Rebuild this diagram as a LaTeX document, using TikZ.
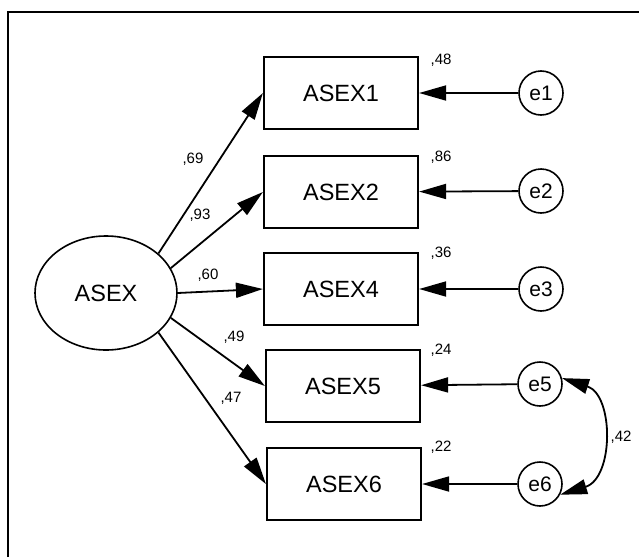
\documentclass[tikz,border=0pt]{standalone}
\usepackage{fontspec}
\setmainfont{Liberation Sans}
\usetikzlibrary{arrows.meta,shapes.geometric}
\begin{document}
\begin{tikzpicture}[x=1pt,y=-1pt,
  obs/.style={draw,line width=2.2pt,minimum width=154pt,minimum height=72pt,inner sep=0pt,font=\fontsize{23.5}{23.5}\selectfont},
  err/.style={draw,circle,line width=1.6pt,minimum size=44pt,inner sep=0pt,font=\fontsize{21}{21}\selectfont},
  lat/.style={draw,ellipse,line width=1.6pt,minimum width=142pt,minimum height=114pt,inner sep=0pt,font=\fontsize{23.5}{23.5}\selectfont},
  arr/.style={line width=1.8pt,-{Triangle[length=27pt,width=15pt]}},
  lbl/.style={font=\fontsize{15}{15}\selectfont,inner sep=1pt}]
\useasboundingbox (0,0) rectangle (639,557);
\draw[line width=1.2pt] (8,557) -- (8,12) -- (639,12);
\node[lat] (asex) at (106,293) {ASEX};
\node[obs] (b1) at (341,93) {ASEX1};
\node[obs] (b2) at (341,192) {ASEX2};
\node[obs] (b4) at (341,289) {ASEX4};
\node[obs] (b5) at (343,386) {ASEX5};
\node[obs] (b6) at (344,484) {ASEX6};
\node[err] (e1) at (541,93) {e1};
\node[err] (e2) at (541,191) {e2};
\node[err] (e3) at (541,289) {e3};
\node[err] (e5) at (540,384) {e5};
\node[err] (e6) at (540,484) {e6};
\draw[arr] (asex.37) -- (b1.west);
\draw[arr] (asex.21) -- (b2.west);
\draw[arr] (asex.0) -- (b4.west);
\draw[arr] (asex.-21) -- (b5.west);
\draw[arr] (asex.-37) -- (b6.west);
\draw[arr] (e1) -- (b1);
\draw[arr] (e2) -- (b2);
\draw[arr] (e3) -- (b4);
\draw[arr] (e5) -- (b5);
\draw[arr] (e6) -- (b6);
\draw[line width=1.8pt,{Triangle[length=27pt,width=15pt]}-{Triangle[length=27pt,width=15pt]}] (e5.15) .. controls (614,395) and (614,478) .. (e6.-28);
\node[lbl] (l1) at (193,159) {,69};
\node[lbl] (l2) at (200,215) {,93};
\node[lbl] (l4) at (208,275) {,60};
\node[lbl] (l5) at (234,337) {,49};
\node[lbl] (l6) at (231,398) {,47};
\node[lbl] (r1) at (441,60) {,48};
\node[lbl] (r2) at (441,157) {,86};
\node[lbl] (r4) at (441,253) {,36};
\node[lbl] (r5) at (441,350) {,24};
\node[lbl] (r6) at (441,447) {,22};
\node[lbl] (c56) at (621,437) {,42};
\end{tikzpicture}
\end{document}
